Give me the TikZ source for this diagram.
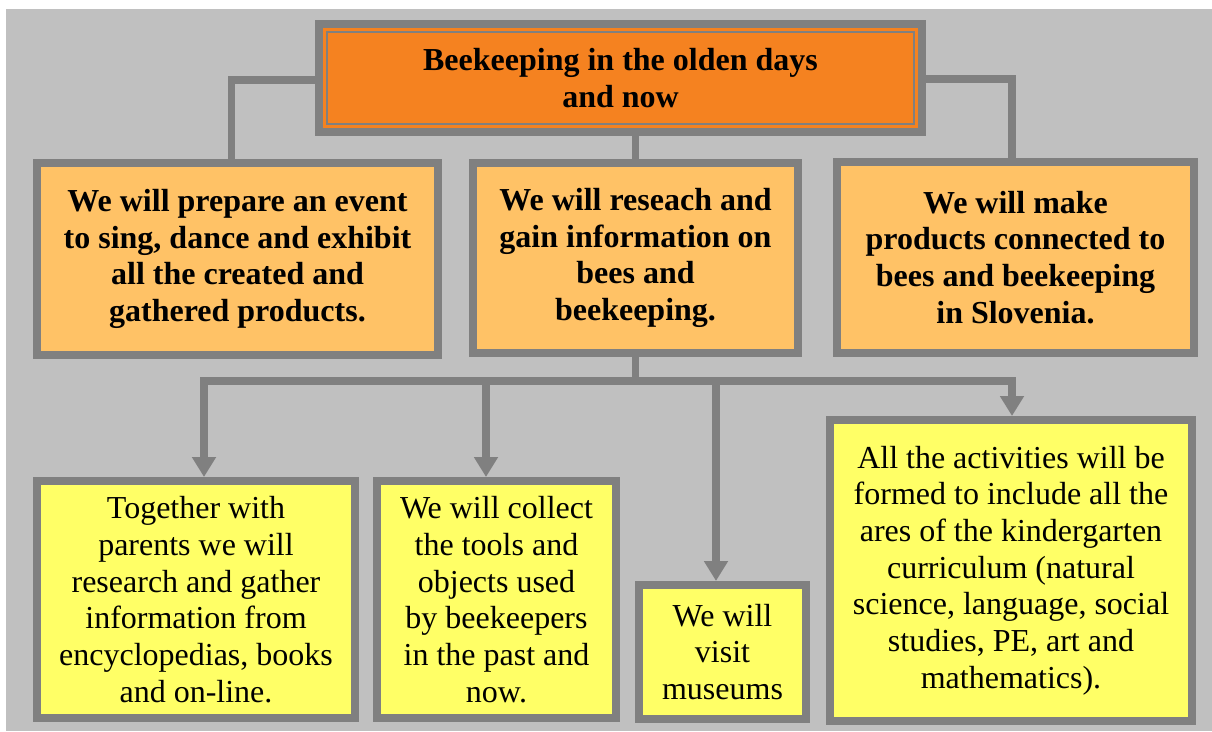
\documentclass[tikz,border=0pt]{standalone}
\usepackage{fontspec}
\setmainfont{Liberation Serif}
\usepackage{xcolor}
\usetikzlibrary{arrows.meta}
\definecolor{Fond}{HTML}{C0C0C0}
\definecolor{Bord}{HTML}{808080}
\definecolor{Orange}{HTML}{F58220}
\definecolor{Peche}{HTML}{FFC266}
\definecolor{Jaune}{HTML}{FFFF66}
\tikzset{
TitleBox/.style={
 draw=Bord, 
 fill=Orange, 
 line width=8pt, 
 inner sep=0pt, 
 align=center, 
 font=\bfseries\fontsize{32pt}{36.5pt}\selectfont
 },
GoalBox/.style={
 draw=Bord, 
 fill=Peche, 
 line width=8pt, 
 inner sep=0pt, 
 align=center, 
 font=\bfseries\fontsize{32pt}{36.8pt}\selectfont
 },
TaskBox/.style={
 draw=Bord, 
 fill=Jaune, 
 line width=8pt, 
 inner sep=0pt, 
 align=center, 
 font=\fontsize{32pt}{36.7pt}\selectfont
 },
Link/.style={
 draw=Bord, 
 line width=7.5pt
 },
DownArrow/.style={
 draw=Bord, 
 line width=7.5pt, 
 -{Triangle[width=23pt,length=20pt]}
 }
}
\begin{document}
\begin{tikzpicture}[x=1pt,y=-1pt]
\useasboundingbox (0,0) rectangle (1212,731);
\fill[Fond] (6,9) rectangle (1212,731);
% boxes
\node[TitleBox, minimum width=603pt, minimum height=108pt] (title) at (620.5,78) {Beekeeping in the olden days\\and now};
\draw[Bord, line width=2pt] ([shift={(12pt,-12pt)}]title.north west) rectangle ([shift={(-12pt,12pt)}]title.south east);
\node[GoalBox, minimum width=401pt, minimum height=192pt] (event) at (237.5,259) {We will prepare an event\\to sing, dance and exhibit\\all the created and\\gathered products.};
\node[GoalBox, minimum width=325pt, minimum height=190pt] (research) at (635.5,258) {We will reseach and\\gain information on\\bees and\\beekeeping.};
\node[GoalBox, minimum width=357pt, minimum height=191pt] (products) at (1015.5,257.5) {We will make\\products connected to\\bees and beekeeping\\in Slovenia.};
\node[TaskBox, minimum width=318pt, minimum height=237pt] (parents) at (196,599.5) {Together with\\parents we will\\research and gather\\information from\\encyclopedias, books\\and on-line.};
\node[TaskBox, minimum width=239pt, minimum height=237pt] (tools) at (496.5,599.5) {We will collect\\the tools and\\objects used\\by beekeepers\\in the past and\\now.};
\node[TaskBox, minimum width=167pt, minimum height=134pt] (museums) at (722.5,652) {We will\\visit\\museums};
\node[TaskBox, minimum width=362pt, minimum height=301pt] (curriculum) at (1011,570.5) {All the activities will be\\formed to include all the\\ares of the kindergarten\\curriculum (natural\\science, language, social\\studies, PE, art and\\mathematics).};
% connectors
\draw[Link] ([yshift=-2pt]title.west) -| ([xshift=-6pt]event.north);
\draw[Link] ([yshift=-1pt]title.east) -| ([xshift=-3.5pt]products.north);
\draw[Link] (title.south -| research.north) -- (research.north);
\coordinate (b1) at (204,381);
\coordinate (b2) at (486,381);
\coordinate (b3) at (716,381);
\coordinate (b4) at (1012,381);
\draw[Link] (research.south) -- (research.south |- b1);
\draw[Link, line cap=rect] (b1) -- (b4);
\draw[DownArrow] (b1) -- (b1 |- parents.north);
\draw[DownArrow] (b2) -- (b2 |- tools.north);
\draw[DownArrow] (b3) -- (b3 |- museums.north);
\draw[DownArrow] (b4) -- (b4 |- curriculum.north);
\end{tikzpicture}
\end{document}
